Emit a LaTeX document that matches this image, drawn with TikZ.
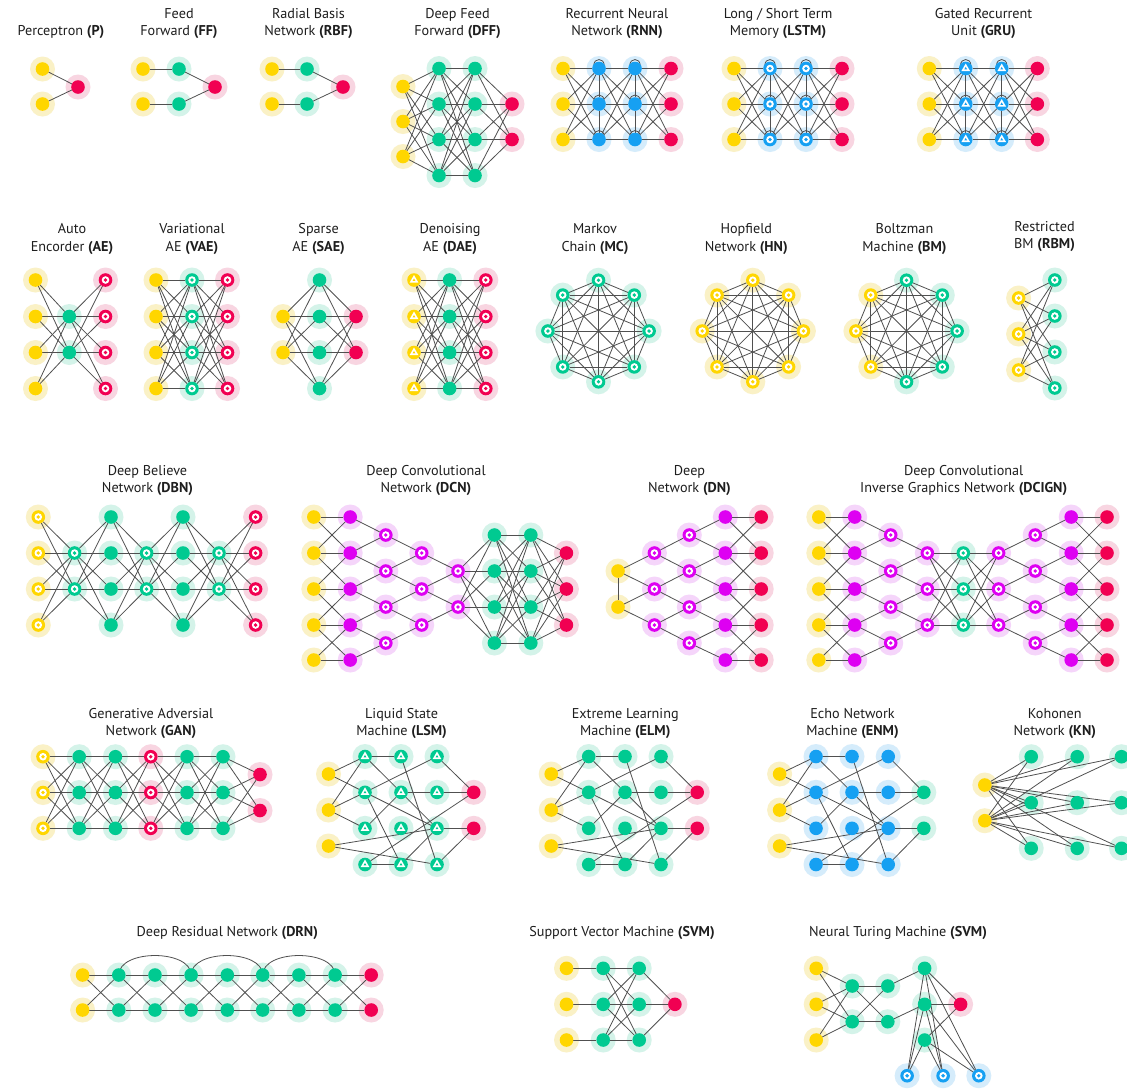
\documentclass[tikz,border=0pt]{standalone}
\usepackage{fontspec}
\setmainfont{PT Sans}
\definecolor{cY}{RGB}{255,214,0}
\definecolor{hY}{RGB}{250,241,198}
\definecolor{cR}{RGB}{241,0,82}
\definecolor{hR}{RGB}{248,213,225}
\definecolor{cG}{RGB}{0,202,145}
\definecolor{hG}{RGB}{212,243,233}
\definecolor{cB}{RGB}{22,160,242}
\definecolor{hB}{RGB}{213,236,251}
\definecolor{cM}{RGB}{222,0,242}
\definecolor{hM}{RGB}{245,213,250}
\definecolor{edgec}{RGB}{80,80,80}
\definecolor{txt}{RGB}{30,30,30}
\pgfdeclarelayer{bg}
\pgfdeclarelayer{halo}
\pgfdeclarelayer{edges}
\pgfsetlayers{bg,halo,edges,main}
\tikzset{
  cell/.style={circle, fill=c#1, minimum size=6.8pt, inner sep=0pt, outer sep=0pt},
  fcell/.style={cell=#1},
  rcell/.style={cell=#1, path picture={\fill[white] (path picture bounding box.center) circle[radius=1.9pt]; \fill[c#1] (path picture bounding box.center) circle[radius=0.95pt];}},
  tcell/.style={cell=#1, path picture={\fill[white] ([shift={(90:2.5pt)}]path picture bounding box.center) -- ([shift={(210:2.5pt)}]path picture bounding box.center) -- ([shift={(330:2.5pt)}]path picture bounding box.center) -- cycle; \fill[c#1] ([shift={(90:0.8pt)}]path picture bounding box.center) -- ([shift={(210:0.8pt)}]path picture bounding box.center) -- ([shift={(330:0.8pt)}]path picture bounding box.center) -- cycle;}},
  link/.style={draw=edgec, line width=0.4pt},
  ttl/.style={text=txt, font=\fontsize{7.1}{8.5}\selectfont, anchor=base, inner sep=0pt},
}
\gdef\halolist{}
% kind (f/r/t), colour letter, name, x, y
\newcommand\nd[5]{\node[#1cell=#2] (#3) at (#4,#5) {};%
  \xdef\halolist{\unexpanded\expandafter{\halolist}\noexpand\fill[h#2] (#4,#5) circle[radius=6.25pt];}}
% kind, colour, prefix, x, y-list
\newcommand\lay[5]{\foreach \yy [count=\kk] in {#5} {\nd{#1}{#2}{#3\kk}{#4}{\yy}}}
\newcommand\full[4]{\foreach \i in {#2}{\foreach \j in {#4}{\draw[link] (#1\i) -- (#3\j);}}}
\newcommand\pairs[3]{\foreach \i/\j in {#3}{\draw[link] (#1\i) -- (#2\j);}}
\newcommand\bandfive[2]{\pairs{#1}{#2}{1/1,1/2,2/1,2/2,2/3,3/2,3/3,3/4,4/3,4/4,4/5,5/4,5/5}}
\newcommand\selfloop[1]{\draw[link] ([shift={(-2.6pt,1.5pt)}]#1.center) .. controls +(0pt,4pt) and +(0pt,4pt) .. ([shift={(2.6pt,1.5pt)}]#1.center);}
\newcommand\lsmedges[1]{\foreach \u/\v in {y1/a1,y1/a2,y2/a1,y2/a2,y2/a3,y3/c3,y3/c4,a1/b1,a1/b2,b2/c3,a2/c1,a2/c3,a2/b4,a3/b2,a4/b4,a4/r1,b1/c4,b2/c2,b4/c3,c1/r1,c2/r1,c3/r2,c4/r2}{\draw[link] (#1\u) -- (#1\v);}}
\begin{document}
\begin{tikzpicture}[x=0.5pt,y=-0.5pt]
\begin{pgfonlayer}{bg}
\fill[white] (0,0) rectangle (1127,1089);
\end{pgfonlayer}
\useasboundingbox (0,0) rectangle (1127,1089);
% ---------------- row 1
\lay{f}{Y}{p-a}{42.5}{69,104}
\lay{f}{R}{p-b}{78}{87}
\lay{f}{Y}{ff-a}{143}{69,104}
\lay{f}{G}{ff-b}{179}{69,104}
\lay{f}{R}{ff-c}{215}{87}
\lay{f}{Y}{rbf-a}{272}{69,104}
\lay{f}{G}{rbf-b}{307}{69,104}
\lay{f}{R}{rbf-c}{343}{87}
\lay{f}{Y}{dff-a}{403}{86.5,121.5,156.5}
\lay{f}{G}{dff-b}{439}{68.5,104,139.5,175.5}
\lay{f}{G}{dff-c}{475}{68.5,104,139.5,175.5}
\lay{f}{R}{dff-d}{512}{104,139.5}
\lay{f}{Y}{rnn-a}{563}{68.5,104,139.5}
\lay{f}{B}{rnn-b}{599}{68.5,104,139.5}
\lay{f}{B}{rnn-c}{635}{68.5,104,139.5}
\lay{f}{R}{rnn-d}{671}{68.5,104,139.5}
\lay{f}{Y}{lstm-a}{734}{68.5,104,139.5}
\lay{r}{B}{lstm-b}{770}{68.5,104,139.5}
\lay{r}{B}{lstm-c}{806}{68.5,104,139.5}
\lay{f}{R}{lstm-d}{842}{68.5,104,139.5}
\lay{f}{Y}{gru-a}{929.3}{68.5,104,139.5}
\lay{t}{B}{gru-b}{965.7}{68.5,104,139.5}
\lay{t}{B}{gru-c}{1001.7}{68.5,104,139.5}
\lay{f}{R}{gru-d}{1037.3}{68.5,104,139.5}
% ---------------- row 2
\lay{f}{Y}{ae-a}{35.5}{280,316.5,352.5,388.5}
\lay{f}{G}{ae-b}{69.3}{316.5,352.5}
\lay{r}{R}{ae-c}{105.5}{280,316.5,352.5,388.5}
\lay{f}{Y}{vae-a}{156}{280,316.5,352.5,388.5}
\lay{r}{G}{vae-b}{192}{280,316.5,352.5,388.5}
\lay{r}{R}{vae-c}{227.5}{280,316.5,352.5,388.5}
\lay{f}{Y}{sae-a}{283}{316.5,352.5}
\lay{f}{G}{sae-b}{319.5}{280,316.5,352.5,388.5}
\lay{f}{R}{sae-c}{356}{316.5,352.5}
\lay{t}{Y}{dae-a}{414}{280,316.5,352.5,388.5}
\lay{f}{G}{dae-b}{449.6}{280,316.5,352.5,388.5}
\lay{r}{R}{dae-c}{485.8}{280,316.5,352.5,388.5}
\foreach \k in {0,...,7}{
  \pgfmathsetmacro\xa{598.5+50.6*cos(45*\k)}
  \pgfmathsetmacro\xb{752.8+50.6*cos(45*\k)}
  \pgfmathsetmacro\yo{331+50.8*sin(45*\k)}
  \nd{r}{G}{mc\k}{\xa}{\yo}
  \nd{r}{Y}{hn\k}{\xb}{\yo}
}
\foreach \k/\c in {0/G,1/G,2/G,3/Y,4/Y,5/Y,6/G,7/G}{
  \pgfmathsetmacro\xc{906.5+50.6*cos(45*\k)}
  \pgfmathsetmacro\yo{331+50.8*sin(45*\k)}
  \nd{r}{\c}{bm\k}{\xc}{\yo}
}
\lay{r}{Y}{rbm-a}{1018.6}{298,334,370}
\lay{r}{G}{rbm-b}{1054.8}{280,316,352,388}
% ---------------- row 3
\lay{r}{Y}{dbn1-}{38.3}{517,553,589,625}
\lay{r}{G}{dbn2-}{74.6}{553,589}
\lay{f}{G}{dbn3-}{111}{517,553,589,625}
\lay{r}{G}{dbn4-}{146.6}{553,589}
\lay{f}{G}{dbn5-}{183}{517,553,589,625}
\lay{r}{G}{dbn6-}{219}{553,589}
\lay{r}{R}{dbn7-}{255.6}{517,553,589,625}
\lay{f}{Y}{dcn-a}{313.8}{517,553,589,625,660}
\lay{f}{M}{dcn-b}{350.2}{517,553,589,625,660}
\lay{r}{M}{dcn-c}{385.8}{535,571,607,643}
\lay{r}{M}{dcn-d}{421.7}{553,589,625}
\lay{r}{M}{dcn-e}{458}{571,607}
\lay{f}{G}{dcn-f}{494.4}{535,571,607,643}
\lay{f}{G}{dcn-g}{530.8}{535,571,607,643}
\lay{f}{R}{dcn-h}{566.4}{553,589,625}
\lay{f}{Y}{dn-a}{618}{571,607}
\lay{r}{M}{dn-b}{654.4}{553,589,625}
\lay{r}{M}{dn-c}{689.3}{535,571,607,643}
\lay{f}{M}{dn-d}{725.3}{517,553,589,625,660}
\lay{f}{R}{dn-e}{761.2}{517,553,589,625,660}
\lay{f}{Y}{dci-a}{818.8}{517,553,589,625,660}
\lay{f}{M}{dci-b}{854.7}{517,553,589,625,660}
\lay{r}{M}{dci-c}{890.7}{535,571,607,643}
\lay{r}{M}{dci-d}{927.3}{553,589,625}
\lay{r}{G}{dci-e}{963.3}{553,589,625}
\lay{r}{M}{dci-f}{998.6}{553,589,625}
\lay{r}{M}{dci-g}{1035.2}{535,571,607,643}
\lay{f}{M}{dci-h}{1071.2}{517,553,589,625,660}
\lay{f}{R}{dci-i}{1107}{517,553,589,625,660}
% ---------------- row 4
\lay{r}{Y}{gan-a}{43}{756.7,792.5,828.3}
\lay{f}{G}{gan-b}{79.2}{756.7,792.5,828.3}
\lay{f}{G}{gan-c}{115.4}{756.7,792.5,828.3}
\lay{r}{R}{gan-d}{150.8}{756.7,792.5,828.3}
\lay{f}{G}{gan-e}{187}{756.7,792.5,828.3}
\lay{f}{G}{gan-f}{223}{756.7,792.5,828.3}
\lay{f}{R}{gan-g}{260}{774.5,810.5}
\lay{f}{Y}{lsm-y}{328.5}{774,810,846}
\lay{t}{G}{lsm-a}{365}{756.5,792.3,828.3,864.5}
\lay{t}{G}{lsm-b}{401}{756.5,792.3,828.3,864.5}
\lay{t}{G}{lsm-c}{437}{756.5,792.3,828.3,864.5}
\lay{f}{R}{lsm-r}{473.7}{792.3,828.3}
\lay{f}{Y}{elm-y}{551.2}{774,810,846}
\lay{f}{G}{elm-a}{588.7}{756.5,792.3,828.3,864.5}
\lay{f}{G}{elm-b}{625}{756.5,792.3,828.3,864.5}
\lay{f}{G}{elm-c}{661}{756.5,792.3,828.3,864.5}
\lay{f}{R}{elm-r}{697.2}{792.3,828.3}
\lay{f}{Y}{enm-y}{779.6}{774,810,846}
\lay{f}{B}{enm-a}{816}{756.5,792.3,828.3,864.5}
\lay{f}{B}{enm-b}{852}{756.5,792.3,828.3,864.5}
\lay{f}{B}{enm-c}{888.2}{756.5,792.3,828.3,864.5}
\lay{f}{G}{enm-r}{923.8}{792.3,828.3}
\lay{f}{Y}{kn-y}{984.8}{785,820.7}
\lay{f}{G}{kn-a}{1031.2}{756.7,802.7,848.3}
\lay{f}{G}{kn-b}{1077.2}{756.7,802.7,848.3}
\lay{f}{G}{kn-c}{1121.5}{756.7,802.7,848.3}
% ---------------- row 5
\lay{f}{Y}{drn-c0-}{82.6}{975,1010}
\foreach \k/\x in {1/118.8,2/155,3/191.1,4/227.3,5/262.7,6/298.9,7/335.1}{\lay{f}{G}{drn-c\k-}{\x}{975,1010}}
\lay{f}{R}{drn-c8-}{371.2}{975,1010}
\lay{f}{Y}{svm-y}{566.5}{968.3,1004.3,1040}
\lay{f}{G}{svm-a}{603.2}{968.3,1004.3,1040}
\lay{f}{G}{svm-b}{639.2}{968.3,1004.3,1040}
\lay{f}{R}{svm-r}{674.9}{1004.3}
\lay{f}{Y}{ntm-y}{816.2}{968.3,1004.3,1040}
\lay{f}{G}{ntm-a}{852.2}{986,1021.7}
\lay{f}{G}{ntm-b}{887.8}{986,1021.7}
\lay{f}{G}{ntm-c}{924.6}{968.3,1004.3,1040}
\lay{f}{R}{ntm-r}{960.6}{1004.3}
\nd{r}{B}{ntm-m1}{907.1}{1075.7}
\nd{r}{B}{ntm-m2}{943.1}{1075.7}
\nd{r}{B}{ntm-m3}{978.8}{1075.7}
% ================= halos
\begin{pgfonlayer}{halo}
\halolist
\end{pgfonlayer}
% ================= connectors
\begin{pgfonlayer}{edges}
\full{p-a}{1,2}{p-b}{1}
\pairs{ff-a}{ff-b}{1/1,2/2}\full{ff-b}{1,2}{ff-c}{1}
\pairs{rbf-a}{rbf-b}{1/1,2/2}\full{rbf-b}{1,2}{rbf-c}{1}
\full{dff-a}{1,2,3}{dff-b}{1,2,3,4}\full{dff-b}{1,2,3,4}{dff-c}{1,2,3,4}\full{dff-c}{1,2,3,4}{dff-d}{1,2}
\foreach \n in {rnn,lstm,gru}{
  \full{\n-a}{1,2,3}{\n-b}{1,2,3}\full{\n-b}{1,2,3}{\n-c}{1,2,3}\full{\n-c}{1,2,3}{\n-d}{1,2,3}
  \pairs{\n-b}{\n-b}{1/2,2/3}\pairs{\n-c}{\n-c}{1/2,2/3}
  \foreach \m in {1,2,3}{\selfloop{\n-b\m}\selfloop{\n-c\m}}
}
\full{ae-a}{1,2,3,4}{ae-b}{1,2}\full{ae-b}{1,2}{ae-c}{1,2,3,4}
\full{vae-a}{1,2,3,4}{vae-b}{1,2,3,4}\full{vae-b}{1,2,3,4}{vae-c}{1,2,3,4}
\full{sae-a}{1,2}{sae-b}{1,2,3,4}\full{sae-b}{1,2,3,4}{sae-c}{1,2}
\full{dae-a}{1,2,3,4}{dae-b}{1,2,3,4}\full{dae-b}{1,2,3,4}{dae-c}{1,2,3,4}
\foreach \i in {0,...,6}{\pgfmathtruncatemacro\s{\i+1}\foreach \j in {\s,...,7}{\draw[link] (mc\i)--(mc\j); \draw[link] (hn\i)--(hn\j); \draw[link] (bm\i)--(bm\j);}}
\full{rbm-a}{1,2,3}{rbm-b}{1,2,3,4}
\full{dbn1-}{1,2,3,4}{dbn2-}{1,2}\full{dbn2-}{1,2}{dbn3-}{1,2,3,4}\full{dbn3-}{1,2,3,4}{dbn4-}{1,2}
\full{dbn4-}{1,2}{dbn5-}{1,2,3,4}\full{dbn5-}{1,2,3,4}{dbn6-}{1,2}\full{dbn6-}{1,2}{dbn7-}{1,2,3,4}
\bandfive{dcn-a}{dcn-b}
\pairs{dcn-b}{dcn-c}{1/1,2/1,2/2,3/2,3/3,4/3,4/4,5/4}
\pairs{dcn-c}{dcn-d}{1/1,2/1,2/2,3/2,3/3,4/3}
\pairs{dcn-d}{dcn-e}{1/1,2/1,2/2,3/2}
\full{dcn-e}{1,2}{dcn-f}{1,2,3,4}\full{dcn-f}{1,2,3,4}{dcn-g}{1,2,3,4}\full{dcn-g}{1,2,3,4}{dcn-h}{1,2,3}
\pairs{dn-a}{dn-a}{1/2}
\pairs{dn-a}{dn-b}{1/1,1/2,2/2,2/3}
\pairs{dn-b}{dn-c}{1/1,1/2,2/2,2/3,3/3,3/4}
\pairs{dn-c}{dn-d}{1/1,1/2,2/2,2/3,3/3,3/4,4/4,4/5}
\bandfive{dn-d}{dn-e}
\bandfive{dci-a}{dci-b}
\pairs{dci-b}{dci-c}{1/1,2/1,2/2,3/2,3/3,4/3,4/4,5/4}
\pairs{dci-c}{dci-d}{1/1,2/1,2/2,3/2,3/3,4/3}
\full{dci-d}{1,2,3}{dci-e}{1,2,3}\full{dci-e}{1,2,3}{dci-f}{1,2,3}
\pairs{dci-f}{dci-g}{1/1,1/2,2/2,2/3,3/3,3/4}
\pairs{dci-g}{dci-h}{1/1,1/2,2/2,2/3,3/3,3/4,4/4,4/5}
\bandfive{dci-h}{dci-i}
\full{gan-a}{1,2,3}{gan-b}{1,2,3}\full{gan-b}{1,2,3}{gan-c}{1,2,3}\full{gan-c}{1,2,3}{gan-d}{1,2,3}
\full{gan-d}{1,2,3}{gan-e}{1,2,3}\full{gan-e}{1,2,3}{gan-f}{1,2,3}\full{gan-f}{1,2,3}{gan-g}{1,2}
\lsmedges{lsm-}\lsmedges{elm-}\lsmedges{enm-}
\full{kn-y}{1,2}{kn-a}{1,2,3}\full{kn-y}{1,2}{kn-b}{1,2,3}\full{kn-y}{1,2}{kn-c}{1,2,3}
\foreach \k in {0,...,7}{\pgfmathtruncatemacro\kn{\k+1}\full{drn-c\k-}{1,2}{drn-c\kn-}{1,2}}
\foreach \u/\v in {1/3,3/5,5/7}{\draw[link] (drn-c\u-1.center) .. controls +(0pt,13pt) and +(0pt,13pt) .. (drn-c\v-1.center);}
\pairs{svm-y}{svm-a}{1/1,2/2,3/3}\full{svm-a}{1,2,3}{svm-b}{1,2,3}\full{svm-b}{1,2,3}{svm-r}{1}
\full{ntm-y}{1,2,3}{ntm-a}{1,2}\full{ntm-a}{1,2}{ntm-b}{1,2}\pairs{ntm-b}{ntm-c}{1/1,2/2}
\full{ntm-c}{1,2,3}{ntm-r}{1}\full{ntm-c}{1,2,3}{ntm-m}{1,2,3}
\end{pgfonlayer}
% ================= titles
\node[ttl] (t-p) at (61,35) {Perceptron \textbf{(P)}};
\node[ttl] (t-ff1) at (179,18.3) {Feed};
\node[ttl] (t-ff2) at (179,35) {Forward \textbf{(FF)}};
\node[ttl] (t-rbf1) at (308.5,18.3) {Radial Basis};
\node[ttl] (t-rbf2) at (308.5,35) {Network \textbf{(RBF)}};
\node[ttl] (t-dff1) at (457.5,18.3) {Deep Feed};
\node[ttl] (t-dff2) at (457.5,35) {Forward \textbf{(DFF)}};
\node[ttl] (t-rnn1) at (617,18.3) {Recurrent Neural};
\node[ttl] (t-rnn2) at (617,35) {Network \textbf{(RNN)}};
\node[ttl] (t-lstm1) at (778,18.3) {Long / Short Term};
\node[ttl] (t-lstm2) at (778,35) {Memory \textbf{(LSTM)}};
\node[ttl] (t-gru1) at (983.5,18.3) {Gated Recurrent};
\node[ttl] (t-gru2) at (983.5,35) {Unit \textbf{(GRU)}};
\node[ttl] (t-ae1) at (72,233.5) {Auto};
\node[ttl] (t-ae2) at (72,251) {Encorder \textbf{(AE)}};
\node[ttl] (t-vae1) at (192,233.5) {Variational};
\node[ttl] (t-vae2) at (192,251) {AE \textbf{(VAE)}};
\node[ttl] (t-sae1) at (318.6,233.5) {Sparse};
\node[ttl] (t-sae2) at (318.6,251) {AE \textbf{(SAE)}};
\node[ttl] (t-dae1) at (450,233.5) {Denoising};
\node[ttl] (t-dae2) at (450,251) {AE \textbf{(DAE)}};
\node[ttl] (t-mc1) at (595,233.5) {Markov};
\node[ttl] (t-mc2) at (595,251) {Chain \textbf{(MC)}};
\node[ttl] (t-hn1) at (746.3,233.5) {Hopfield};
\node[ttl] (t-hn2) at (746.3,251) {Network \textbf{(HN)}};
\node[ttl] (t-bm1) at (904.5,233.5) {Boltzman};
\node[ttl] (t-bm2) at (904.5,251) {Machine \textbf{(BM)}};
\node[ttl] (t-rbm1) at (1044.5,231) {Restricted};
\node[ttl] (t-rbm2) at (1044.5,248.3) {BM \textbf{(RBM)}};
\node[ttl] (t-dbn1) at (147.5,475) {Deep Believe};
\node[ttl] (t-dbn2) at (147.5,492.3) {Network \textbf{(DBN)}};
\node[ttl] (t-dcn1) at (426,475) {Deep Convolutional};
\node[ttl] (t-dcn2) at (426,492.3) {Network \textbf{(DCN)}};
\node[ttl] (t-dn1) at (689.5,475) {Deep};
\node[ttl] (t-dn2) at (689.5,492.3) {Network \textbf{(DN)}};
\node[ttl] (t-dci1) at (963.7,475) {Deep Convolutional};
\node[ttl] (t-dci2) at (963.7,492.3) {Inverse Graphics Network \textbf{(DCIGN)}};
\node[ttl] (t-gan1) at (151,718.3) {Generative Adversial};
\node[ttl] (t-gan2) at (151,735) {Network \textbf{(GAN)}};
\node[ttl] (t-lsm1) at (401.6,718.3) {Liquid State};
\node[ttl] (t-lsm2) at (401.6,735) {Machine \textbf{(LSM)}};
\node[ttl] (t-elm1) at (625.2,718.3) {Extreme Learning};
\node[ttl] (t-elm2) at (625.2,735) {Machine \textbf{(ELM)}};
\node[ttl] (t-enm1) at (852.5,718.3) {Echo Network};
\node[ttl] (t-enm2) at (852.5,735) {Machine \textbf{(ENM)}};
\node[ttl] (t-kn1) at (1054.8,718.3) {Kohonen};
\node[ttl] (t-kn2) at (1054.8,735) {Network \textbf{(KN)}};
\node[ttl] (t-drn) at (227.3,936.7) {Deep Residual Network \textbf{(DRN)}};
\node[ttl] (t-svm) at (622,936.7) {Support Vector Machine \textbf{(SVM)}};
\node[ttl] (t-ntm) at (898,936.7) {Neural Turing Machine \textbf{(SVM)}};
\end{tikzpicture}
\end{document}
